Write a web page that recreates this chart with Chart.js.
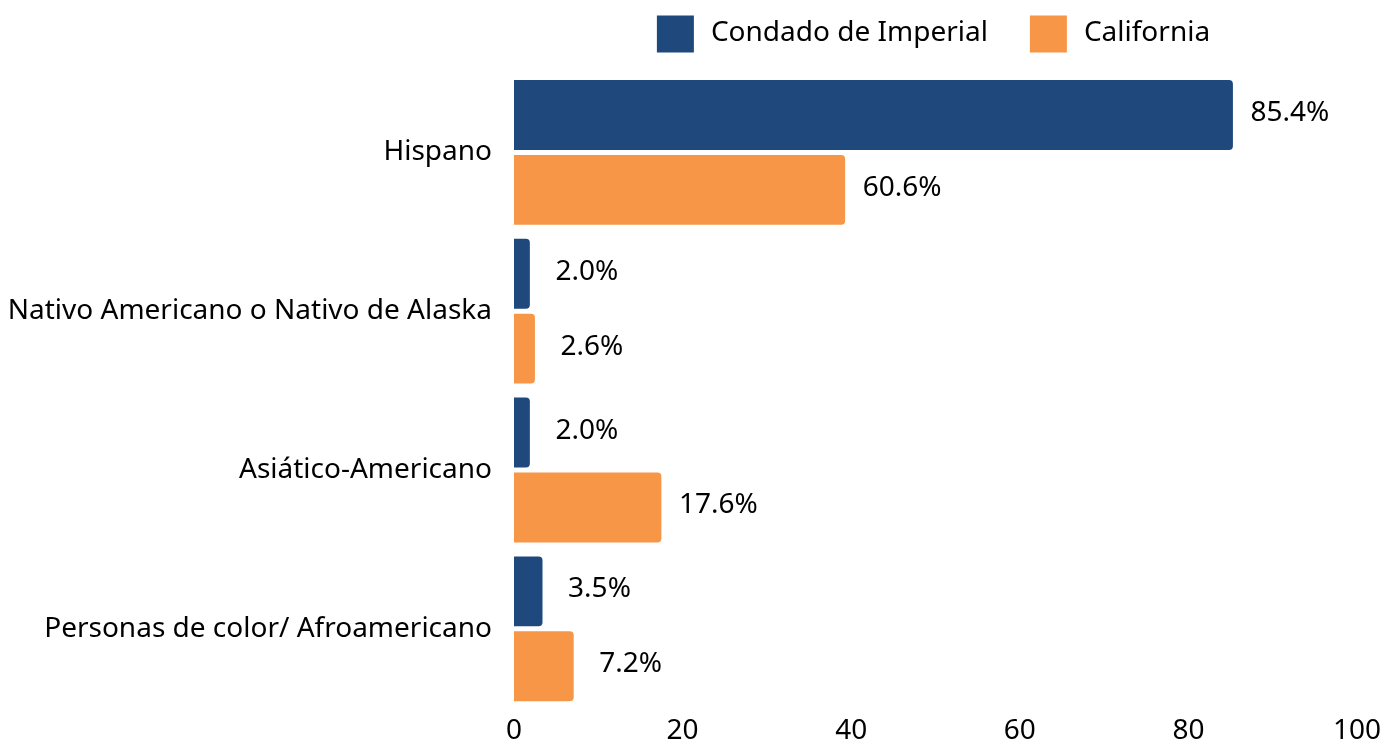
<!DOCTYPE html>
<html>
<head>
<meta charset="utf-8">
<script src="https://cdn.jsdelivr.net/npm/chart.js@4"></script>
<style>
  body { margin: 0; background: #fff; }
  #wrap { width: 1390px; height: 747px; }
</style>
</head>
<body>
<div id="wrap"><canvas id="myChart"></canvas></div>
<script>
// Data for the chart
const categories = ["Hispano", "Nativo Americano o Nativo de Alaska", "Asiático-Americano", "Personas de color/ Afroamericano"];
const seriesNames = ["Condado de Imperial", "California"];
const imperialValues = [85.4, 2.0, 2.0, 3.5];
const californiaValues = [39.4, 2.6, 17.6, 7.2];
const imperialLabels = ["85.4%", "2.0%", "2.0%", "3.5%"];
const californiaLabels = ["60.6%", "2.6%", "17.6%", "7.2%"];
const xTicks = [0, 20, 40, 60, 80, 100];

const FONT = "'Noto Sans', sans-serif";
const SIZE = 28;
const navy = '#1F497D';
const orange = '#F79646';

// Value labels to the right of each bar
const valueLabels = {
    id: 'valueLabels',
    afterDatasetsDraw(chart) {
        const ctx = chart.ctx;
        const texts = [imperialLabels, californiaLabels];
        ctx.save();
        ctx.font = SIZE + 'px ' + FONT;
        ctx.fillStyle = '#000';
        ctx.textAlign = 'center';
        ctx.textBaseline = 'middle';
        chart.data.datasets.forEach((ds, i) => {
            chart.getDatasetMeta(i).data.forEach((bar, j) => {
                ctx.fillText(texts[i][j], bar.x + 56, bar.y - 2);
            });
        });
        ctx.restore();
    }
};

// Legend drawn above the plot
const topLegend = {
    id: 'topLegend',
    afterDraw(chart) {
        const ctx = chart.ctx;
        ctx.save();
        ctx.font = SIZE + 'px ' + FONT;
        ctx.textBaseline = 'middle';
        ctx.textAlign = 'left';
        const box = 37, gap = 17, between = 42;
        const items = chart.data.datasets.map(ds => ({label: ds.label, color: ds.backgroundColor, w: ctx.measureText(ds.label).width}));
        let total = 0;
        items.forEach((it, i) => { total += box + gap + it.w + (i ? between : 0); });
        const center = (chart.chartArea.left + chart.chartArea.right) / 2 - 2;
        let x = center - total / 2;
        const y = 34;
        items.forEach(it => {
            ctx.fillStyle = it.color;
            ctx.fillRect(x, y - box / 2, box, box);
            ctx.fillStyle = '#000';
            ctx.fillText(it.label, x + box + gap, y - 1);
            x += box + gap + it.w + between;
        });
        ctx.restore();
    }
};

const config = {
    type: 'bar',
    data: {
        labels: categories,
        datasets: [{
            label: seriesNames[0],
            data: imperialValues,
            backgroundColor: navy,
            borderColor: 'rgba(255,255,255,0.5)',
            borderWidth: 1,
            borderRadius: 5,
            barPercentage: 0.96,
            categoryPercentage: 0.943
        }, {
            label: seriesNames[1],
            data: californiaValues,
            backgroundColor: orange,
            borderColor: 'rgba(255,255,255,0.5)',
            borderWidth: 1,
            borderRadius: 5,
            barPercentage: 0.96,
            categoryPercentage: 0.943
        }]
    },
    options: {
        indexAxis: 'y',
        responsive: true,
        maintainAspectRatio: false,
        animation: false,
        layout: { padding: { top: 73, right: 33, bottom: 0, left: 0 } },
        plugins: {
            legend: { display: false },
            tooltip: { enabled: false }
        },
        scales: {
            x: {
                min: 0,
                max: 100,
                afterBuildTicks(scale) { scale.ticks = xTicks.map(v => ({value: v})); },
                afterFit(scale) { scale.height = 35; },
                grid: { display: false, drawTicks: false },
                border: { display: false },
                ticks: { color: '#000', font: { family: FONT, size: SIZE }, padding: 6 }
            },
            y: {
                afterFit(scale) { scale.width = 514; },
                grid: { display: false, drawTicks: false },
                border: { display: false },
                ticks: { color: '#000', font: { family: FONT, size: SIZE }, padding: 22 }
            }
        }
    },
    plugins: [valueLabels, topLegend]
};

const myChart = new Chart(document.getElementById('myChart'), config);
</script>
</body>
</html>
